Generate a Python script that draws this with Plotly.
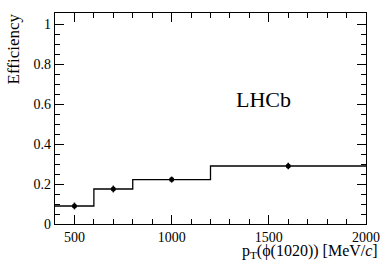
import plotly.graph_objects as go

# binning and efficiency values
bin_edges = [400, 600, 800, 1200, 2000]
bin_eff = [0.09, 0.175, 0.222, 0.29]
pt_points = [500, 700, 1000, 1600]
eff_points = [0.09, 0.175, 0.222, 0.29]
eff_errors = [0.017, 0.017, 0.015, 0.016]

FONT = "'Times New Roman', 'Liberation Serif', 'DejaVu Serif', serif"

fig = go.Figure()

# step histogram
fig.add_trace(go.Scatter(
    x=bin_edges, y=bin_eff + [bin_eff[-1]],
    mode="lines", line=dict(color="black", width=1.3, shape="hv"),
    hoverinfo="skip", showlegend=False,
))

# data points with errors
fig.add_trace(go.Scatter(
    x=pt_points, y=eff_points, mode="markers",
    marker=dict(color="black", size=5),
    error_y=dict(type="data", array=eff_errors, color="black", thickness=1.5, width=0),
    showlegend=False,
))

axis_common = dict(
    showgrid=False, zeroline=False, showline=True, linecolor="black", linewidth=1.3,
    mirror="ticks", ticks="inside", tickcolor="black", tickwidth=1.3,
    tickfont=dict(family=FONT, size=14, color="black"),
)

fig.update_xaxes(
    range=[400, 2000], tickvals=[500, 1000, 1500, 2000], ticklen=9,
    minor=dict(dtick=100, ticks="inside", ticklen=5, tickcolor="black", tickwidth=1.3),
    **axis_common,
)
fig.update_yaxes(
    range=[0, 1.055], tickvals=[0, 0.2, 0.4, 0.6, 0.8, 1], ticktext=["0", "0.2", "0.4", "0.6", "0.8", "1"],
    ticklen=9,
    minor=dict(dtick=0.05, ticks="inside", ticklen=5, tickcolor="black", tickwidth=1.3),
    **axis_common,
)

fig.add_annotation(
    text="Efficiency", textangle=-90, xref="paper", yref="paper",
    x=-0.135, y=1.005, xanchor="center", yanchor="top", showarrow=False,
    font=dict(family=FONT, size=17, color="black"),
)
fig.add_annotation(
    text="p<sub>T</sub>(\u03d5(1020)) [MeV/<i>c</i>]", xref="paper", yref="paper",
    x=1.046, y=-0.078, xanchor="right", yanchor="top", showarrow=False,
    font=dict(family=FONT, size=16, color="black"),
)
fig.add_annotation(
    text="LHCb", xref="x", yref="y", x=1472, y=0.625,
    xanchor="center", yanchor="middle", showarrow=False,
    font=dict(family=FONT, size=22, color="black"),
)

fig.update_layout(
    width=392, height=267,
    margin=dict(l=55, r=19, t=13, b=43),
    plot_bgcolor="white", paper_bgcolor="white",
    font=dict(family=FONT, color="black"),
)

# drop the default 8px page margin so the figure fills the window
fig.write_html("out.html", config={"displayModeBar": False},
               post_script="document.body.style.margin='0';")
